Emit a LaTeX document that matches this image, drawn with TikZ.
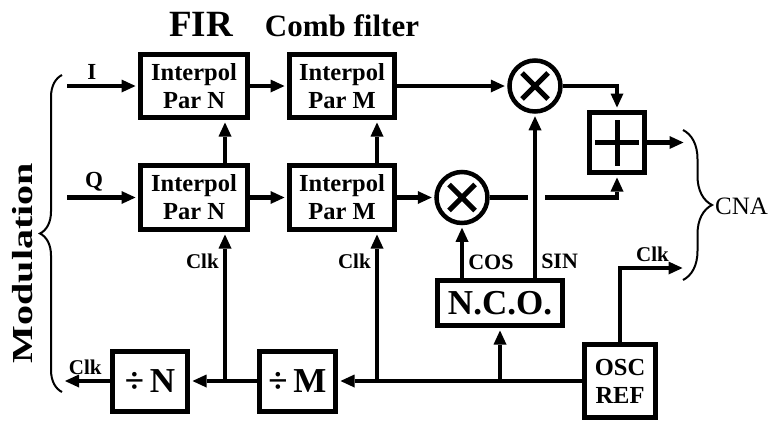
\documentclass[tikz,border=0pt]{standalone}
\usepackage{fontspec}
\setmainfont{Liberation Serif}
\usetikzlibrary{arrows.meta,decorations.pathreplacing}

\newcommand{\fsz}[2]{\fontsize{#1}{#2}\selectfont}

\begin{document}
\begin{tikzpicture}[x=1pt,y=-1pt,
  blk/.style={draw,line width=5pt,inner sep=0pt,align=center,font=\bfseries\fsz{24.5}{28}},
  mix/.style={circle,draw,line width=4.5pt,minimum size=51pt,inner sep=0pt,
    path picture={\draw[line width=5pt]
      ([shift={(-13pt,-13pt)}]path picture bounding box.center) -- ([shift={(13pt,13pt)}]path picture bounding box.center)
      ([shift={(-13pt,13pt)}]path picture bounding box.center) -- ([shift={(13pt,-13pt)}]path picture bounding box.center);}},
  wire/.style={line width=4.5pt},
  sig/.style={wire,shorten >=2.5pt,-{Triangle[length=14pt,width=13pt,line width=0pt]}},
  lbl/.style={font=\bfseries\fsz{21}{21},inner sep=4pt},
  brc/.style={decorate,decoration={brace,amplitude=#1},line width=2pt}]
\useasboundingbox (0,0) rectangle (768,421);
\path
(201,24) node[font=\bfseries\fsz{37}{37}] (fir) {FIR}
(342,26) node[font=\bfseries\fsz{31}{31}] (comb) {Comb filter}
(194,86) node[blk,minimum width=107pt,minimum height=63pt] (firI) {Interpol\\Par N}
(342,86) node[blk,minimum width=105pt,minimum height=63pt] (combI) {Interpol\\Par M}
(194,197.5) node[blk,minimum width=107pt,minimum height=64pt] (firQ) {Interpol\\Par N}
(342,197.5) node[blk,minimum width=105pt,minimum height=64pt] (combQ) {Interpol\\Par M}
(535,86) node[mix] (mixI) {}
(462,197.5) node[mix] (mixQ) {}
(617,142.5) node[blk,minimum width=55pt,minimum height=60pt] (sum) {}
(500,303) node[blk,minimum width=125pt,minimum height=45pt,font=\bfseries\fsz{35}{35}] (nco) {N.C.O.}
(620,381) node[blk,minimum width=71pt,minimum height=73pt,font=\bfseries\fsz{24.5}{28}] (osc) {OSC\\REF}
(297.5,381) node[blk,minimum width=76pt,minimum height=60pt,font=\bfseries\fsz{35}{35}] (divM) {÷\,M}
(150,381) node[blk,minimum width=75pt,minimum height=60pt,font=\bfseries\fsz{35}{35}] (divN) {÷\,N}
(23,263) node[rotate=90,font=\bfseries\fsz{29}{29}] (mod) {\scalebox{1.38}[1]{Modulation}}
(712,206) node[right,inner sep=3pt,font=\fsz{25}{25}] (cna) {CNA};
\path
(67,86) coordinate (inI)
(67,197.5) coordinate (inQ)
(225,381) coordinate (tapN)
(377,381) coordinate (tapM)
(500,381) coordinate (tapO)
(62.5,381) coordinate (clkN)
(686,142.5) coordinate (outS)
(685,268) coordinate (clkD)
(528,197.5) coordinate (gapL)
(545,197.5) coordinate (gapR)
(62,392) coordinate (modB) (62,75) coordinate (modT)
(683,130) coordinate (cnaT) (683,280) coordinate (cnaB);
% I and Q paths
\draw[sig] (inI) to node[pos=0.35,above,lbl,font=\bfseries\fsz{23}{23}] {I} (firI);
\draw[sig] (inQ) to node[pos=0.38,above,lbl,font=\bfseries\fsz{23}{23}] {Q} (firQ);
\draw[sig] (firI) to (combI);
\draw[sig] (firQ) to (combQ);
\draw[sig] (combI) to (mixI);
\draw[sig] (combQ) to (mixQ);
\draw[sig] (mixI.east) -| (sum.north);
\draw[wire] (mixQ.east) -- (gapL);
\draw[sig] (gapR) -| (sum.south);
\draw[sig] (sum) to (outS);
\draw[line width=5pt] ([xshift=-22pt]sum.center) -- ([xshift=22pt]sum.center)
  ([yshift=-23pt]sum.center) -- ([yshift=23pt]sum.center);
% clocks
\draw[sig] (firQ.north -| tapN) to (firI.south -| tapN);
\draw[sig] (combQ.north -| tapM) to (combI.south -| tapM);
\draw[sig] (tapN) to node[pos=0.8,left,lbl] {Clk} (firQ.south -| tapN);
\draw[sig] (tapM) to node[pos=0.8,left,lbl] {Clk} (combQ.south -| tapM);
\draw[sig] (osc) to (divM);
\draw[sig] (divM) to (divN);
\draw[sig] (divN) to node[pos=0.52,above,lbl] {Clk} (clkN);
\draw[sig] (tapO) to (nco.south -| tapO);
\draw[sig] (osc.north) |- node[pos=0.75,above,lbl] {Clk} (clkD);
%\draw[sig] (nco) to (mixQ);
\draw[sig] (nco.north -| mixQ) to node[pos=0.3,right,lbl,font=\bfseries\fsz{22}{22}] {COS} (mixQ.south);
\draw[sig] (nco.north -| mixI) to node[pos=0.1,right,lbl,font=\bfseries\fsz{22}{22}] {SIN} (mixI.south);
% braces
\draw[brc=22pt] (modB) -- (modT);
\draw[brc=29pt] (cnaT) -- (cnaB);
\end{tikzpicture}
\end{document}
